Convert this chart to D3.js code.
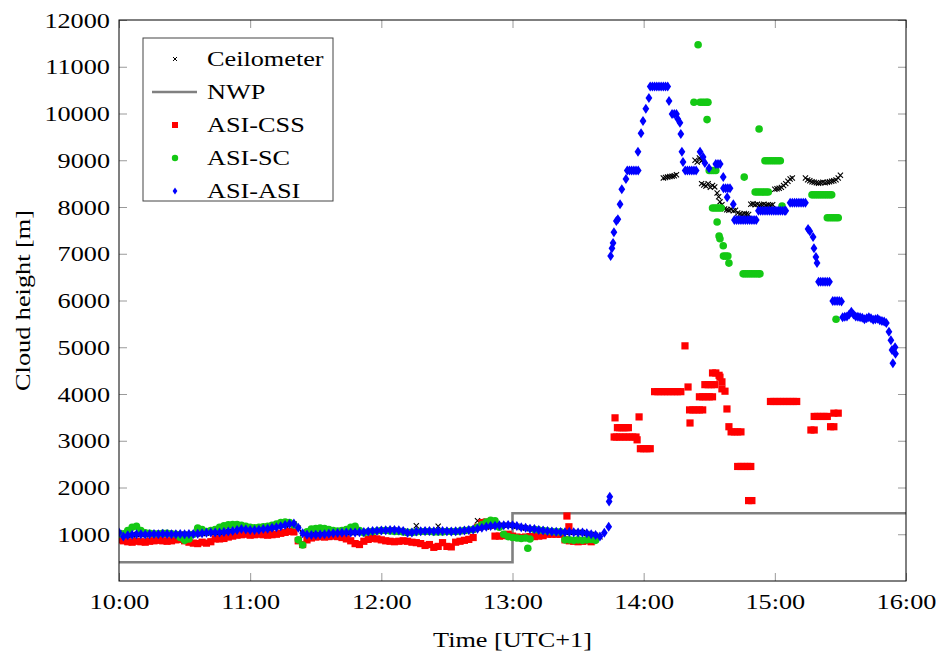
<!DOCTYPE html>
<html>
<head>
<meta charset="utf-8">
<script src="https://cdn.jsdelivr.net/npm/d3@7"></script>
<style>
  body { margin: 0; background: #fff; }
  svg text { font-family: "Liberation Serif", "Times New Roman", serif; fill: #000; }
</style>
</head>
<body>
<svg id="chart" width="939" height="659"></svg>
<script>
// ---- Data (time in minutes after 10:00 UTC+1, heights in metres) ----
const timeTicks = [0, 60, 120, 180, 240, 300, 360];
const timeTickLabels = ["10:00", "11:00", "12:00", "13:00", "14:00", "15:00", "16:00"];
const heightTicks = [1000, 2000, 3000, 4000, 5000, 6000, 7000, 8000, 9000, 10000, 11000, 12000];

const seriesNames = ["Ceilometer", "NWP", "ASI-CSS", "ASI-SC", "ASI-ASI"];

// NWP forecast: stepwise cloud base
const nwpTimes = [0, 180, 360];
const nwpHeights = [400, 1450, 1450];

// Low cloud layer, sampled every 2 minutes from 10:00
const bandStep = 2;
const ceilometerLow = [
  1030, 960, 980, 985, 995, 1000, 990, 995, 1000, 1000,
  1005, 1000, 995, 1000, 1000, 995, 1000, 1000, 1005, 1015,
  1025, 1030, 1035, 1035, 1045, 1055, 1065, 1000, 1000, 1095,
  1085, 1085, 1090, 1100, 1110, 1060, 1010, 1040, 1190, 1210,
  1220, 1130, 1010, 985, 980, 985, 990, 995, 1005, 1015,
  1020, 1025, 1030, 1035, 1035, 1040, 1045, 1055, 1065, 1070,
  1075, 1080, 1085, 1085, 1080, 1065, 1025, 1035, 1180, 1060,
  1065, 1065, 1060, 1170, 1065, 1065, 1060, 1055, 1060, 1065,
  1085, 1095, 1290, 1280, 1155, 1170, 1175, 1185, 1190, 1195,
  1190, 1170, 1145, 1135, 1115, 1105, 1085, 1075, 1065, 1055,
  1050, 1045, 1040, 1045, 1040, 1035, 1035, 1015, 995, 980, 945
];
const cssLow = [
  880, 860, 840, 830, 850, 840, 830, 850, 860, 870,
  860, 850, 860, 880, 890, 860, 830, 810, 800, 830,
  810, 840, 900, 900, 910, 940, 960, 980, 990, 1000,
  980, 990, 1000, 990, 980, 990, 1000, 1020, 1040, 1060,
  1050, 860, 780, 880, 920, 940, 950, 940, 950, 960,
  950, 930, 900, 860, 800, 780, 850, 890, 910, 900,
  880, 860, 850, 840, 850, 860, 850, 830, 820, 800,
  760, 780, 720, 740, 820, 740, 730, 830, 850, 870,
  890, 930, 1150, 1250, 1260, 1200, 960, 960, 970, 1000,
  960, 940, 930, 940, 950, 950, 960, 970, 1000, 1000,
  1000, 1000, 880, 860, 850, 840, 850, 860, 840
];
const scLow = [
  1000, 1010, 1080, 1150, 1170, 1080, 1030, 1020, 1010, 1010,
  1020, 1020, 1010, 1000, 930, 870, 900, 1000, 1130, 1100,
  1060, 1080, 1100, 1150, 1180, 1200, 1210, 1210, 1190, 1170,
  1150, 1140, 1150, 1160, 1170, 1190, 1220, 1250, 1260, 1250,
  1200, 880, 770, 1050, 1110, 1120, 1130, 1120, 1100, 1080,
  1070, 1080, 1100, 1150, 1170, 1080, 1030, 1050, 1060, 1070,
  1080, 1080, 1070, 1060, 1060, 1050, 1040, 1040, 1050, 1060,
  1060, 1060, 1050, 1050, 1050, 1060, 1060, 1060, 1070, 1080,
  1090, 1100, 1150, 1200, 1260, 1300, 1290, 1150, 1000, 950,
  930, 920, 910, 920, 900, 1100, 1090, 1080, 1070, 1060,
  1050, 1050, 880, 880, 870, 880, 870, 880, 890, 870
];
const asiLow = [
  1040, 950, 980, 990, 1000, 1000, 995, 1000, 1005, 1000,
  1010, 1005, 1000, 1000, 1005, 1000, 1005, 1005, 1010, 1020,
  1030, 1035, 1040, 1040, 1050, 1060, 1070, 1090, 1110, 1100,
  1090, 1090, 1095, 1110, 1120, 1140, 1150, 1170, 1200, 1220,
  1230, 1140, 1020, 990, 985, 990, 995, 1000, 1010, 1020,
  1025, 1030, 1035, 1040, 1040, 1045, 1050, 1060, 1070, 1075,
  1080, 1085, 1090, 1090, 1085, 1070, 1030, 1040, 1060, 1065,
  1070, 1070, 1065, 1070, 1070, 1065, 1060, 1065, 1070, 1080,
  1090, 1100, 1120, 1140, 1160, 1175, 1180, 1190, 1195, 1200,
  1195, 1175, 1150, 1140, 1120, 1110, 1090, 1080, 1070, 1060,
  1055, 1050, 1045, 1050, 1045, 1040, 1040, 1020, 1000, 985,
  950, 1030, 1160
];

// Individual retrievals as [minute, height]
const ceilometerPoints = [
  [249, 8620], [250, 8630], [251, 8640], [252, 8650], [253, 8660], [254, 8670], [255, 8690],
  [263.5, 9000], [264.5, 8960], [265.5, 9050], [266.5, 8990], [267, 9010],
  [266.5, 8500], [267.5, 8470], [268.5, 8450], [269.5, 8500], [270.5, 8420], [271.5, 8460], [272.5, 8430],
  [273.6, 8300], [274.3, 8220], [274.9, 8110], [275.8, 8050], [277, 7960], [278, 7940], [279, 7930],
  [280, 7950], [281, 7920], [282, 7930], [283, 7870], [284, 7850], [285, 7840], [286, 7860],
  [287, 7850], [288, 7840], [289, 8060], [290, 8070], [291, 8050], [292, 8060], [293, 8040],
  [294, 8050], [295, 8060], [296, 8040], [297, 8050], [298, 8040], [299, 8050],
  [300, 8380], [301, 8390], [302, 8400], [303, 8420], [304, 8460], [305, 8500], [306, 8550],
  [307, 8600], [308, 8620],
  [314, 8620], [315, 8580], [316, 8560], [317, 8540], [318, 8530], [319, 8520], [320, 8510],
  [321, 8520], [322, 8530], [323, 8520], [324, 8530], [325, 8540], [326, 8550], [327, 8560],
  [328, 8580], [329, 8620], [330, 8680]
];
const cssPoints = [
  [204.9, 1390], [205.8, 1160],
  [226.9, 3490],
  [228, 3280], [229, 3280], [230, 3280], [231, 3280], [232, 3280], [233, 3280],
  [226.5, 3080], [227.5, 3080], [229, 3080], [230.5, 3080], [232, 3080], [233.5, 3080], [235, 3080], [236.5, 3080],
  [237, 3020], [237.9, 3510],
  [238.5, 2830], [240, 2830], [241.5, 2830], [243, 2830],
  [245, 4050], [246.5, 4050], [248, 4050], [249.5, 4050], [251, 4050], [252.5, 4050], [254, 4050], [255.5, 4050], [257, 4050],
  [258.9, 5030], [260.3, 4150], [261.2, 3380],
  [261, 3660], [262.5, 3660], [264, 3660], [265.5, 3660], [267, 3660],
  [265.5, 3940], [267, 3940], [268.5, 3940], [270, 3940], [271.5, 3940],
  [268, 4200], [269.5, 4200], [271, 4200], [272.5, 4200],
  [271.5, 4450], [273, 4450], [274.5, 4400],
  [274.9, 4360], [275.8, 4260], [275.8, 4110], [277.2, 4060],
  [278.1, 3680], [279, 3300],
  [280, 3190], [281.5, 3190], [283, 3190], [284.5, 3190],
  [283, 2450], [284.5, 2450], [286, 2450], [287.5, 2450], [289, 2450],
  [288, 1720], [289.5, 1720],
  [298, 3840], [299.5, 3840], [301, 3840], [302.5, 3840], [304, 3840], [305.5, 3840], [307, 3840], [308.5, 3840], [310, 3840],
  [316.5, 3230], [318, 3230],
  [318, 3520], [319.5, 3520], [321, 3520], [322.5, 3520], [324, 3520],
  [325.5, 3300], [327, 3300],
  [327, 3590], [329, 3590]
];
const scPoints = [
  [187, 700],
  [263, 10240], [264.9, 11470], [265.8, 10240], [266.8, 10240], [267.8, 10240], [268.8, 10240], [269.4, 10240],
  [269, 9870],
  [270, 8780], [271, 8780], [272, 8780], [273, 8780],
  [271.5, 7980], [272.5, 7980], [273.5, 7980], [274.5, 7980], [275.5, 7980],
  [273.6, 7680], [274.5, 7380], [274.9, 7320], [276.4, 7170],
  [276.5, 6950], [277.5, 6950], [278.5, 6950], [279, 6800],
  [285.5, 6570], [286.5, 6570], [287.5, 6570], [288.5, 6570], [289.5, 6570], [290.5, 6570], [291.5, 6570], [292.5, 6570], [293.2, 6570],
  [286, 8640],
  [291, 8320], [292, 8320], [293, 8320], [294, 8320], [295, 8320], [296, 8320], [297, 8320],
  [292.8, 9670],
  [295.5, 8990], [296.5, 8990], [297.5, 8990], [298.5, 8990], [299.5, 8990], [300.5, 8990], [301.5, 8990], [302.5, 8990],
  [303.3, 8020],
  [317, 8260], [318, 8260], [319, 8260], [320, 8260], [321, 8260], [322, 8260], [323, 8260], [324, 8260], [325, 8260], [326, 8260],
  [324, 7770], [325, 7770], [326, 7770], [327, 7770], [328, 7770], [329, 7770],
  [328, 5600]
];
const asiPoints = [
  [224.2, 1700], [224.5, 1800],
  [224.9, 6950], [225.5, 7120], [226, 7230], [226.4, 7460], [227.5, 7700], [228.2, 7740],
  [229.2, 8060], [230, 8380], [231.9, 8600],
  [232.5, 8780], [233.5, 8780], [234.5, 8780], [235.5, 8780], [236.5, 8780], [237.5, 8780],
  [237.4, 9180], [238.8, 9580], [239.7, 9840], [241, 10100], [242.4, 10330],
  [243, 10580], [244, 10580], [245, 10580], [246, 10580], [247, 10580], [248, 10580], [249, 10580], [250, 10580], [251, 10580],
  [251.6, 10270], [253, 9990], [254, 9990], [255, 9990], [255.6, 9880], [256.6, 9800],
  [257, 9560], [257.5, 9180], [258, 8960],
  [259, 8780], [260, 8780], [261, 8780], [262, 8780], [263, 8780], [264, 8780],
  [265.8, 9180], [267.2, 9070], [268, 8940], [269.9, 8830],
  [273, 8920], [274, 8920], [275, 8920], [276.4, 8640],
  [276.5, 8400], [277.5, 8400], [278.5, 8400], [279.5, 8400], [278.2, 8210], [281, 8060],
  [281.5, 7720], [282.5, 7720], [283.5, 7720], [284.5, 7720], [285.5, 7720], [286.5, 7720],
  [287.5, 7720], [288.5, 7720], [289.5, 7720], [290.5, 7720], [291.5, 7720],
  [292.5, 7920], [293.5, 7920], [294.5, 7920], [295.5, 7920], [296.5, 7920], [297.5, 7920],
  [298.5, 7920], [299.5, 7920], [300.5, 7920], [301.5, 7920], [302.5, 7920], [303.5, 7920], [304.5, 7920], [305, 7920],
  [307, 8090], [308, 8090], [309, 8090], [310, 8090], [311, 8090], [312, 8090], [313, 8090], [314, 8090],
  [315.2, 7530], [316, 7480], [317.5, 7360], [317.9, 7120], [318.8, 6930], [319.3, 6800],
  [320, 6400], [321, 6400], [322, 6400], [323, 6400], [324, 6400], [325, 6400],
  [326.5, 5990], [327.5, 5990], [328.5, 5990], [329.5, 5990], [330.5, 5980],
  [331, 5640], [332, 5650], [333, 5660], [334, 5700], [335, 5760], [336, 5700], [337, 5660],
  [338, 5650], [339, 5640], [340, 5630], [341, 5600], [342, 5620], [343, 5640], [344, 5620],
  [345, 5590], [346, 5600], [347, 5610], [348, 5580], [349, 5560], [350, 5550], [351, 5520],
  [352.2, 5330], [353.1, 5150], [353.6, 4940], [355, 5000], [355.2, 4860], [354, 4660]
];

// ---- Layout ----
const svg = d3.select("#chart");
const plot = { left: 119, right: 906, top: 20, bottom: 581 };
const SX = 1.25;          // horizontal stretch of the serif lettering
const FONT = "21px";

const x = d3.scaleLinear().domain([0, 360]).range([plot.left, plot.right]);
const y = d3.scaleLinear().domain([0, 12000]).range([plot.bottom, plot.top]);

const colors = { ceil: "#000000", nwp: "#808080", css: "#ff0000", sc: "#14c814", asi: "#0000ff" };

function sampled(values) {
  return values.map((h, i) => [i * bandStep, h]);
}

function addText(parent, str, tx, ty, anchor, rotate) {
  const rot = rotate ? ` rotate(${rotate})` : "";
  return parent.append("text")
    .attr("transform", `translate(${tx},${ty})${rot} scale(${SX},1)`)
    .attr("text-anchor", anchor)
    .style("font-size", FONT)
    .text(str);
}

// ---- Ticks (inward, on all four sides) ----
function styleTicks(g) {
  g.select(".domain").remove();
  g.selectAll(".tick line").attr("stroke", "#9a9a9a").attr("stroke-width", 1);
}
const tickLen = 8;
svg.append("g").attr("transform", `translate(${plot.left},0)`)
  .call(d3.axisLeft(y).tickValues(heightTicks).tickSize(-tickLen).tickFormat(d => d))
  .call(styleTicks)
  .call(g => g.selectAll(".tick text")
    .attr("x", null).attr("dy", null).attr("fill", "#000")
    .attr("transform", `translate(-9,7) scale(${SX},1)`)
    .style("font-family", '"Liberation Serif", serif').style("font-size", FONT));
svg.append("g").attr("transform", `translate(${plot.right},0)`)
  .call(d3.axisRight(y).tickValues(heightTicks).tickSize(-tickLen).tickFormat(""))
  .call(styleTicks);
svg.append("g").attr("transform", `translate(0,${plot.bottom})`)
  .call(d3.axisBottom(x).tickValues(timeTicks).tickSize(-tickLen).tickFormat((d, i) => timeTickLabels[i]))
  .call(styleTicks)
  .call(g => g.selectAll(".tick text")
    .attr("y", null).attr("dy", null).attr("fill", "#000")
    .attr("transform", `translate(0,28) scale(${SX},1)`)
    .style("font-family", '"Liberation Serif", serif').style("font-size", FONT));
svg.append("g").attr("transform", `translate(0,${plot.top})`)
  .call(d3.axisTop(x).tickValues(timeTicks).tickSize(-tickLen).tickFormat(""))
  .call(styleTicks);

// ---- Plot content ----
svg.append("clipPath").attr("id", "plotClip")
  .append("rect").attr("x", plot.left).attr("y", plot.top)
  .attr("width", plot.right - plot.left).attr("height", plot.bottom - plot.top);
const marks = svg.append("g").attr("clip-path", "url(#plotClip)");

const crossPath = "M-2.6,-2.6L2.6,2.6M-2.6,2.6L2.6,-2.6";
const diamondPath = "M0,-5L3.4,0L0,5L-3.4,0Z";

// Ceilometer (crosses)
marks.append("g").selectAll("path")
  .data(sampled(ceilometerLow).concat(ceilometerPoints))
  .join("path")
  .attr("d", crossPath)
  .attr("transform", d => `translate(${x(d[0])},${y(d[1])})`)
  .attr("stroke", colors.ceil).attr("stroke-width", 1.1).attr("fill", "none");

// NWP (step line)
marks.append("path")
  .datum(nwpTimes.map((t, i) => [t, nwpHeights[i]]))
  .attr("d", d3.line().x(d => x(d[0])).y(d => y(d[1])).curve(d3.curveStepAfter))
  .attr("fill", "none").attr("stroke", colors.nwp).attr("stroke-width", 2.6);

// ASI-CSS (squares)
marks.append("g").selectAll("rect")
  .data(sampled(cssLow).concat(cssPoints))
  .join("rect")
  .attr("x", d => x(d[0]) - 3.6).attr("y", d => y(d[1]) - 3.6)
  .attr("width", 7.2).attr("height", 7.2)
  .attr("fill", colors.css);

// ASI-SC (circles)
marks.append("g").selectAll("circle")
  .data(sampled(scLow).concat(scPoints))
  .join("circle")
  .attr("cx", d => x(d[0])).attr("cy", d => y(d[1])).attr("r", 3.8)
  .attr("fill", colors.sc);

// ASI-ASI (diamonds)
marks.append("g").selectAll("path")
  .data(sampled(asiLow).concat(asiPoints))
  .join("path")
  .attr("d", diamondPath)
  .attr("transform", d => `translate(${x(d[0])},${y(d[1])})`)
  .attr("fill", colors.asi);

// ---- Frame ----
svg.append("rect")
  .attr("x", plot.left).attr("y", plot.top)
  .attr("width", plot.right - plot.left).attr("height", plot.bottom - plot.top)
  .attr("fill", "none").attr("stroke", "#000").attr("stroke-width", 1);

// ---- Axis titles ----
addText(svg, "Time [UTC+1]", (plot.left + plot.right) / 2, 647, "middle");
addText(svg, "Cloud height [m]", 30, (plot.top + plot.bottom) / 2, "middle", -90);

// ---- Legend ----
const legend = svg.append("g");
legend.append("rect")
  .attr("x", 143).attr("y", 38).attr("width", 190).attr("height", 163)
  .attr("fill", "#fff").attr("stroke", "#444").attr("stroke-width", 1);
const rowY = [59, 92, 125, 158, 191];
const mx = 175;
legend.append("path").attr("d", "M-2,-2L2,2M-2,2L2,-2")
  .attr("transform", `translate(${mx},${rowY[0]})`)
  .attr("stroke", colors.ceil).attr("stroke-width", 1).attr("fill", "none");
legend.append("line").attr("x1", 152).attr("x2", 197).attr("y1", rowY[1]).attr("y2", rowY[1])
  .attr("stroke", colors.nwp).attr("stroke-width", 2.6);
legend.append("rect").attr("x", mx - 3).attr("y", rowY[2] - 3).attr("width", 6).attr("height", 6)
  .attr("fill", colors.css);
legend.append("circle").attr("cx", mx).attr("cy", rowY[3]).attr("r", 3.2).attr("fill", colors.sc);
legend.append("path").attr("d", "M0,-3.6L2.4,0L0,3.6L-2.4,0Z")
  .attr("transform", `translate(${mx},${rowY[4]})`).attr("fill", colors.asi);
seriesNames.forEach((name, i) => addText(legend, name, 207, rowY[i] + 7, "start"));
</script>
</body>
</html>
